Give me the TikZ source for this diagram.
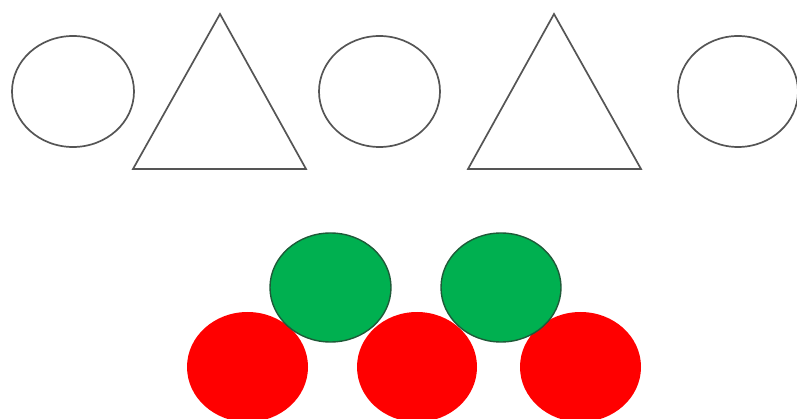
\documentclass[tikz,border=0pt]{standalone}
\definecolor{outl}{HTML}{555555}
\definecolor{ggreen}{HTML}{00B050}
\definecolor{gedge}{HTML}{1E5A38}
\definecolor{rred}{HTML}{FF0000}
\begin{document}
\begin{tikzpicture}[x=1pt,y=-1pt,
  outline/.style={draw=outl,line width=1.7pt,fill=white},
  redball/.style={fill=rred},
  greenball/.style={fill=ggreen,draw=gedge,line width=1.4pt}]
\useasboundingbox[fill=white] (0,0) rectangle (797,419);
% top row
\draw[outline] (73,91.5) ellipse [x radius=61,y radius=55.5];
\draw[outline,line join=miter] (220,14) -- (306,169) -- (133,169) -- cycle;
\draw[outline] (379.5,91.5) ellipse [x radius=60.5,y radius=55.5];
\draw[outline,line join=miter] (554,14) -- (641,169) -- (468,169) -- cycle;
\draw[outline] (738,91.5) ellipse [x radius=60,y radius=55.5];
% bottom row
\fill[redball] (247.5,367) ellipse [x radius=60.5,y radius=55];
\fill[redball] (417,367) ellipse [x radius=60,y radius=55];
\fill[redball] (580.5,367) ellipse [x radius=60.5,y radius=55];
\draw[greenball] (330.5,287.5) ellipse [x radius=60.5,y radius=54.5];
\draw[greenball] (501,287.5) ellipse [x radius=60,y radius=54.5];
\end{tikzpicture}
\end{document}
